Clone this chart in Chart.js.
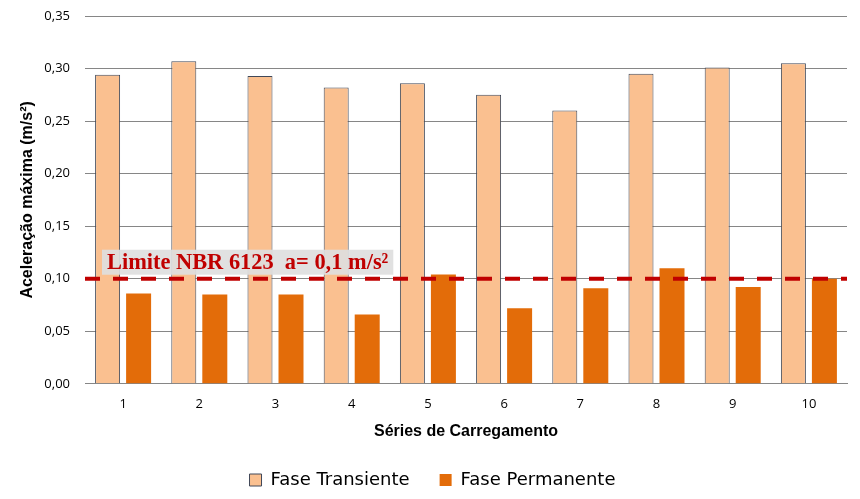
<!DOCTYPE html>
<html>
<head>
<meta charset="utf-8">
<script src="https://cdn.jsdelivr.net/npm/chart.js@4.4.0/dist/chart.umd.min.js"></script>
<style>
html, body { margin: 0; padding: 0; background: #fff; }
</style>
</head>
<body>
<canvas id="myChart" width="860" height="499"></canvas>
<script>
var series = ['1', '2', '3', '4', '5', '6', '7', '8', '9', '10'];
var transiente = [0.294, 0.307, 0.293, 0.282, 0.286, 0.275, 0.260, 0.295, 0.301, 0.305];
var permanente = [0.086, 0.085, 0.085, 0.066, 0.104, 0.072, 0.091, 0.110, 0.092, 0.100];
var limite = 0.1;
var limiteTexto = 'Limite NBR 6123  a= 0,1 m/s²';

// dashed limit line + label, placed through the y scale
var limitLine = {
    id: 'limitLine',
    afterLayout: function (chart) {
        // legend sits centred under the plot area, not the whole canvas
        chart.legend.left += 9;
        chart.legend.right += 9;
    },
    afterDatasetsDraw: function (chart) {
        var ctx = chart.ctx;
        var area = chart.chartArea;
        var y = chart.scales.y.getPixelForValue(limite);
        ctx.save();
        ctx.strokeStyle = '#C00000';
        ctx.lineWidth = 4;
        ctx.setLineDash([15, 13]);
        ctx.beginPath();
        ctx.moveTo(area.left, y);
        ctx.lineTo(area.right, y);
        ctx.stroke();
        ctx.setLineDash([]);
        ctx.font = 'bold 22.4px "Liberation Serif"';
        var w = ctx.measureText(limiteTexto).width;
        ctx.fillStyle = 'rgba(222,222,222,0.92)';
        ctx.fillRect(area.left + 17, y - 29, w + 10, 25);
        ctx.fillStyle = '#C00000';
        ctx.textBaseline = 'alphabetic';
        ctx.fillText(limiteTexto, area.left + 22, y - 10);
        ctx.restore();
    }
};

var ctx = document.getElementById('myChart').getContext('2d');
var myChart = new Chart(ctx, {
    type: 'bar',
    data: {
        labels: series,
        datasets: [{
            label: 'Fase Transiente',
            data: transiente,
            backgroundColor: '#FAC090',
            borderColor: '#404858',
            borderWidth: 1,
            categoryPercentage: 0.814,
            barPercentage: 0.806
        }, {
            label: 'Fase Permanente',
            data: permanente,
            backgroundColor: '#E36C09',
            borderWidth: 0,
            categoryPercentage: 0.814,
            barPercentage: 0.806
        }]
    },
    options: {
        responsive: false,
        animation: false,
        layout: {
            padding: { left: 0, right: 13, top: 16, bottom: 0 }
        },
        plugins: {
            tooltip: { enabled: false },
            legend: {
                position: 'bottom',
                labels: {
                    boxWidth: 12,
                    boxHeight: 12,
                    padding: 30,
                    color: '#000',
                    font: { family: '"DejaVu Sans"', size: 18 }
                }
            }
        },
        scales: {
            x: {
                grid: { display: false },
                border: { display: true, color: '#868686', width: 1 },
                ticks: {
                    color: '#000',
                    padding: 6,
                    font: { family: '"Open Sans"', size: 13, lineHeight: 1 }
                },
                title: {
                    display: true,
                    text: 'Séries de Carregamento',
                    color: '#000',
                    padding: { top: 5, bottom: 0 },
                    font: { family: '"Liberation Sans"', size: 16, weight: 'bold' }
                }
            },
            y: {
                min: 0,
                max: 0.35,
                afterFit: function (scale) { scale.width = 85; },
                grid: { color: '#868686', drawTicks: true, tickLength: 15, tickColor: 'rgba(0,0,0,0)' },
                border: { display: false },
                ticks: {
                    stepSize: 0.05,
                    padding: 0,
                    color: '#000',
                    font: { family: '"Open Sans"', size: 13 },
                    callback: function (v) { return v.toFixed(2).replace('.', ','); }
                },
                title: {
                    display: true,
                    text: 'Aceleração máxima (m/s²)',
                    color: '#000',
                    padding: { top: 18, bottom: 0 },
                    font: { family: '"Liberation Sans"', size: 16, weight: 'bold' }
                }
            }
        }
    },
    plugins: [limitLine]
});
</script>
</body>
</html>
